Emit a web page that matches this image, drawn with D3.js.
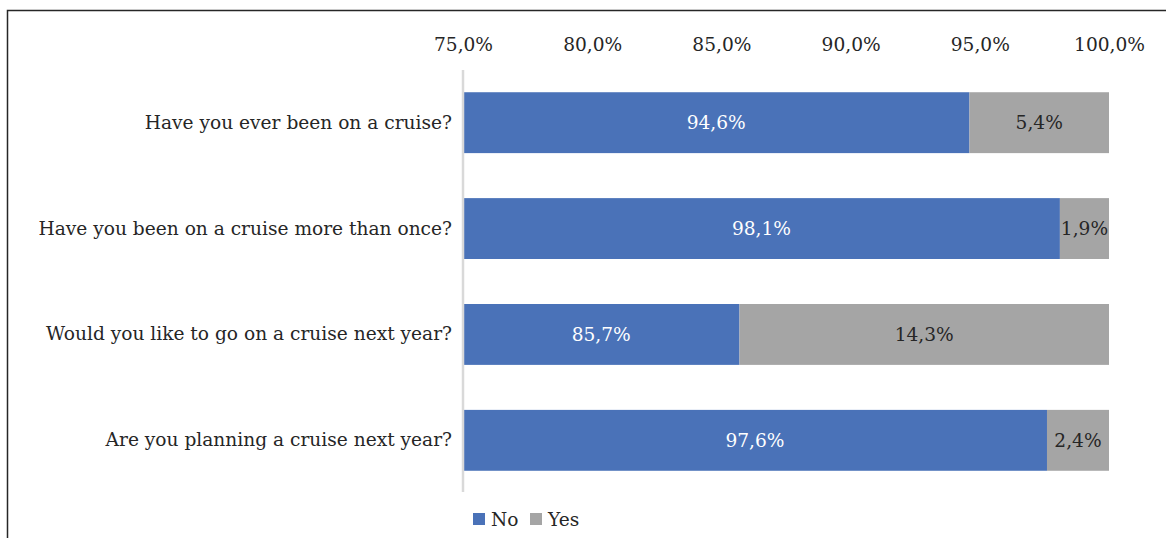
<!DOCTYPE html>
<html>
<head>
<meta charset="utf-8">
<script src="https://cdn.jsdelivr.net/npm/d3@7"></script>
<style>
  html, body { margin: 0; padding: 0; background: #fff; }
  svg { display: block; font-family: "DejaVu Serif", serif; }
</style>
</head>
<body>
<div id="chart"></div>
<script>
// values
const questions = [
  "Have you ever been on a cruise?",
  "Have you been on a cruise more than once?",
  "Would you like to go on a cruise next year?",
  "Are you planning a cruise next year?"
];
const noValues = [94.6, 98.1, 85.7, 97.6];
const yesValues = [5.4, 1.9, 14.3, 2.4];
const xTicks = [75, 80, 85, 90, 95, 100];
const seriesNames = ["No", "Yes"];

const COLORS = { No: "#4a72b8", Yes: "#a5a5a5", ink: "#262626", axis: "#d9d9d9" };
const FONT = "DejaVu Serif";
const FS = "18.6px";
const fmt = (v) => v.toFixed(1).replace(".", ",") + "%";

const W = 1166, H = 538;
const svg = d3.select("#chart").append("svg").attr("width", W).attr("height", H);

// outer frame (runs off the right and bottom edges)
svg.append("path").attr("d", `M7.5,${H + 2}V10.5H${W + 2}`)
  .attr("fill", "none").attr("stroke", "#262626").attr("stroke-width", 1.5);

const x = d3.scaleLinear().domain([75, 100]).range([463, 1109]);
const y = d3.scaleBand().domain(questions).range([70, 493]).paddingInner(0.425).paddingOuter(0.21);

const rows = questions.map((q, i) => ({ q, no: noValues[i], yes: yesValues[i] }));

// top tick labels
svg.append("g").attr("transform", "translate(0,44)")
  .call(d3.axisTop(x).tickValues(xTicks).tickFormat(fmt).tickSize(0).tickPadding(0))
  .call((s) => s.select(".domain").remove())
  .call((s) => s.selectAll("text").attr("fill", COLORS.ink).style("font-family", FONT)
    .style("font-size", FS).attr("dy", "0.35em"));

// category labels
svg.append("g").attr("transform", "translate(452,0)")
  .call(d3.axisLeft(y).tickSize(0).tickPadding(0))
  .call((s) => s.select(".domain").remove())
  .call((s) => s.selectAll("text").attr("fill", COLORS.ink).style("font-family", FONT)
    .style("font-size", FS));

// bars
const g = svg.append("g");
g.selectAll("rect.no").data(rows).join("rect").attr("class", "no")
  .attr("x", x(75)).attr("y", (r) => y(r.q))
  .attr("width", (r) => x(r.no) - x(75)).attr("height", y.bandwidth()).attr("fill", COLORS.No);
g.selectAll("rect.yes").data(rows).join("rect").attr("class", "yes")
  .attr("x", (r) => x(r.no)).attr("y", (r) => y(r.q))
  .attr("width", (r) => x(r.no + r.yes) - x(r.no)).attr("height", y.bandwidth()).attr("fill", COLORS.Yes);

// value labels
g.selectAll("text.no").data(rows).join("text").attr("class", "no")
  .attr("x", (r) => (x(75) + x(r.no)) / 2).attr("y", (r) => y(r.q) + y.bandwidth() / 2)
  .attr("dy", "0.35em").attr("text-anchor", "middle").attr("fill", "#fff")
  .style("font-size", FS).text((r) => fmt(r.no));
g.selectAll("text.yes").data(rows).join("text").attr("class", "yes")
  .attr("x", (r) => (x(r.no) + x(r.no + r.yes)) / 2).attr("y", (r) => y(r.q) + y.bandwidth() / 2)
  .attr("dy", "0.35em").attr("text-anchor", "middle").attr("fill", COLORS.ink)
  .style("font-size", FS).text((r) => fmt(r.yes));

// vertical axis line
svg.append("line").attr("x1", x(75)).attr("x2", x(75)).attr("y1", 70).attr("y2", 492)
  .attr("stroke", COLORS.axis).attr("stroke-width", 2.5);

// legend
const leg = svg.append("g").attr("transform", "translate(473,513)");
const items = [{ name: "No", dx: 0 }, { name: "Yes", dx: 57 }];
leg.selectAll("rect").data(items).join("rect")
  .attr("x", (d) => d.dx).attr("y", 0).attr("width", 12).attr("height", 12)
  .attr("fill", (d) => COLORS[d.name]);
leg.selectAll("text").data(items).join("text")
  .attr("x", (d) => d.dx + 18).attr("y", 6).attr("dy", "0.35em")
  .attr("fill", COLORS.ink).style("font-size", FS).text((d) => d.name);
</script>
</body>
</html>
